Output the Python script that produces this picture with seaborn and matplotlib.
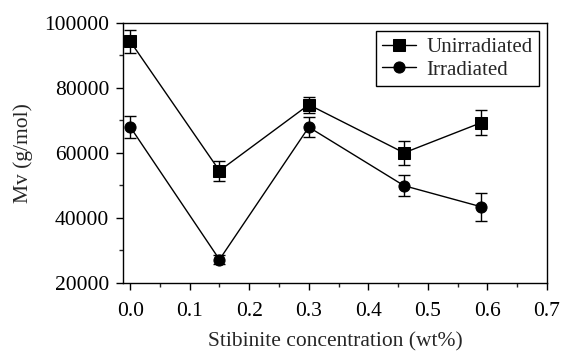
import matplotlib
matplotlib.use("Agg")
import matplotlib.pyplot as plt
import seaborn as sns
import pandas as pd
from matplotlib.ticker import MultipleLocator

conc = [0.0, 0.15, 0.30, 0.46, 0.59]
unirradiated = [94300, 54500, 74800, 60000, 69300]
unirradiated_err = [3600, 3000, 2500, 3600, 3900]
irradiated = [68000, 27200, 67900, 49900, 43400]
irradiated_err = [3400, 1500, 3000, 3300, 4400]
series_names = ["Unirradiated", "Irradiated"]

sns.set_theme(style="ticks")
plt.rcParams["font.family"] = ["Liberation Serif", "DejaVu Serif"]

df = pd.DataFrame({
    "x": conc * 2,
    "y": unirradiated + irradiated,
    "err": unirradiated_err + irradiated_err,
    "series": [series_names[0]] * len(conc) + [series_names[1]] * len(conc),
})

fig = plt.figure(figsize=(5.62, 3.54), dpi=100)
ax = fig.add_axes([123 / 562, 1 - 283 / 354, (547 - 123) / 562, (283 - 22.7) / 354])

sns.lineplot(data=df, x="x", y="y", hue="series", style="series",
             markers={"Unirradiated": "s", "Irradiated": "o"}, dashes=False,
             palette={"Unirradiated": "black", "Irradiated": "black"},
             markersize=8, linewidth=1, markeredgecolor="black", ax=ax,
             legend=True)
for name in series_names:
    d = df[df.series == name]
    ax.errorbar(d.x, d.y, yerr=d.err, fmt="none", ecolor="black",
                elinewidth=1, capsize=4, capthick=1)

ax.set_xlim(-0.012, 0.7)
ax.set_ylim(20000, 100000)
ax.xaxis.set_major_locator(MultipleLocator(0.1))
ax.xaxis.set_minor_locator(MultipleLocator(0.05))
ax.yaxis.set_major_locator(MultipleLocator(20000))
ax.yaxis.set_minor_locator(MultipleLocator(10000))
ax.xaxis.set_major_formatter(matplotlib.ticker.FormatStrFormatter("%.1f"))
ax.tick_params(which="major", direction="out", length=5, width=1, labelsize=15.5, colors="black")
ax.tick_params(axis="x", which="major", pad=9)
ax.tick_params(axis="y", which="major", pad=5)
ax.tick_params(which="minor", direction="out", length=3, width=1)
for s in ax.spines.values():
    s.set_visible(True)
    s.set_linewidth(1)
    s.set_color("black")

ax.set_xlabel("Stibinite concentration (wt%)", fontsize=15.5, labelpad=8)
ax.set_ylabel("Mv (g/mol)", fontsize=15.5, labelpad=8)

leg = ax.legend(loc="upper right", fontsize=15, frameon=True, fancybox=False,
                edgecolor="black", framealpha=1, borderaxespad=0.4,
                handlelength=1.6, handletextpad=0.5, borderpad=0.3, labelspacing=0.15)
leg.get_frame().set_linewidth(1)

fig.savefig("out.png", dpi=100)
